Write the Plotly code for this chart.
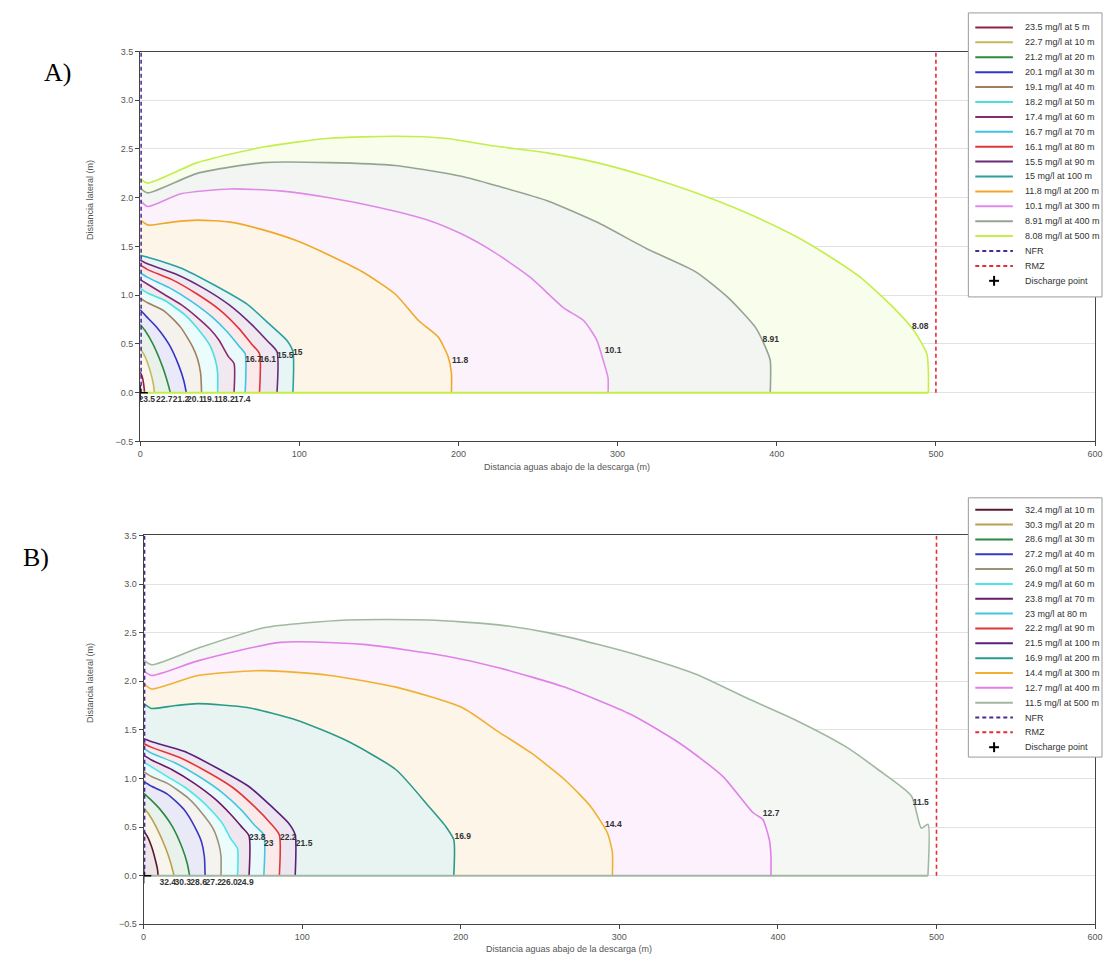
import plotly.graph_objects as go

W, H = 1111, 962

# ---------------- Panel A data ----------------
a_conc = ["23.5", "22.7", "21.2", "20.1", "19.1", "18.2", "17.4", "16.7", "16.1", "15.5", "15", "11.8", "10.1", "8.91", "8.08"]
a_dist = [5, 10, 20, 30, 40, 50, 60, 70, 80, 90, 100, 200, 300, 400, 500]
a_x = [
    [0, 1.2, 2.2, 2.8],
    [0, 2.5, 5, 7.2, 8.5, 9],
    [0, 3, 8, 14, 17, 19],
    [0, 4, 10, 18, 24.5, 27.5, 29],
    [0, 5, 15, 25.5, 33, 36, 38, 38.6],
    [0, 5, 15, 28, 38, 44, 47.5, 48.7, 48.7],
    [0, 5, 15, 26, 36, 44, 49.5, 55.5, 59, 59],
    [0, 5, 18, 32, 45, 55, 62, 66, 66],
    [0, 5, 20, 36, 50, 62, 70, 75, 75],
    [0, 5, 22, 40, 56, 70, 80, 86, 86],
    [0, 6.8, 25.5, 46, 67, 81.5, 92, 96, 96],
    [0, 1, 4.8, 20, 35.9, 56.6, 77.4, 98.1, 118.9, 139.6, 160.4, 174.9, 187.3, 193.5, 195.6, 195.6],
    [0, 4.8, 25.5, 56.6, 87.7, 118.9, 150, 181, 201.8, 222.6, 245.4, 266.1, 278.6, 286.9, 291, 294, 294],
    [0, 4.8, 35.9, 77.4, 118.9, 160.4, 201.8, 224.6, 255.7, 286.9, 318, 349.1, 369.8, 386.6, 392.8, 395.9, 395.9],
    [0, 4.8, 35.9, 77.4, 118.9, 160.4, 191.5, 222.6, 255.7, 286.9, 318, 349.1, 380.2, 411.3, 432, 452.8, 473.5, 486, 494.3, 495.3, 495.3],
]
a_y = [
    [0.21, 0.17, 0.09, 0],
    [0.45, 0.39, 0.29, 0.17, 0.07, 0],
    [0.70, 0.64, 0.50, 0.27, 0.12, 0],
    [0.85, 0.78, 0.68, 0.50, 0.27, 0.12, 0],
    [0.97, 0.92, 0.84, 0.67, 0.47, 0.35, 0.2, 0],
    [1.07, 1.02, 0.95, 0.80, 0.62, 0.48, 0.32, 0.2, 0],
    [1.16, 1.11, 1.01, 0.90, 0.77, 0.65, 0.54, 0.37, 0.3, 0],
    [1.23, 1.18, 1.08, 0.94, 0.78, 0.62, 0.48, 0.40, 0],
    [1.31, 1.26, 1.16, 1.01, 0.85, 0.66, 0.50, 0.40, 0],
    [1.36, 1.32, 1.22, 1.07, 0.90, 0.70, 0.53, 0.42, 0],
    [1.41, 1.38, 1.28, 1.11, 0.91, 0.70, 0.54, 0.42, 0],
    [1.77, 1.76, 1.72, 1.75, 1.77, 1.75, 1.67, 1.56, 1.41, 1.24, 1.01, 0.74, 0.57, 0.37, 0.2, 0],
    [1.97, 1.91, 2.04, 2.09, 2.07, 2.0, 1.9, 1.77, 1.63, 1.44, 1.18, 0.87, 0.74, 0.54, 0.33, 0.15, 0],
    [2.10, 2.05, 2.25, 2.36, 2.36, 2.33, 2.22, 2.12, 1.97, 1.75, 1.48, 1.24, 0.97, 0.67, 0.47, 0.33, 0],
    [2.20, 2.15, 2.36, 2.52, 2.61, 2.63, 2.61, 2.53, 2.46, 2.36, 2.22, 2.05, 1.85, 1.61, 1.41, 1.18, 0.87, 0.64, 0.40, 0.2, 0],
]
a_lab_x = [-1, 10, 20.5, 29.5, 39, 49, 59, 66, 75, 86, 96, 196, 292, 391, 485]
a_lab_y = [-0.07, -0.07, -0.07, -0.07, -0.07, -0.07, -0.07, 0.34, 0.34, 0.38, 0.41, 0.33, 0.43, 0.54, 0.67]

# ---------------- Panel B data ----------------
b_conc = ["32.4", "30.3", "28.6", "27.2", "26.0", "24.9", "23.8", "23", "22.2", "21.5", "16.9", "14.4", "12.7", "11.5"]
b_dist = [10, 20, 30, 40, 50, 60, 70, 80, 90, 100, 200, 300, 400, 500]
b_x = [
    [0, 2.5, 5, 7.3, 8.7, 9.2],
    [0, 3, 8, 14, 17.3, 19.2],
    [0, 4, 10, 18, 24.5, 27.6, 29],
    [0, 5, 15, 25.5, 33, 36.5, 38.3, 38.8],
    [0, 5, 15, 28, 38, 44, 47.5, 48.8, 48.8],
    [0, 5, 15, 26, 36, 44, 50, 55, 59.2, 59.2],
    [0, 5, 18, 32, 45, 55, 62, 66.5, 66.5],
    [0, 5, 20, 36, 50, 62, 70, 75.8, 75.8],
    [0, 5, 22, 40, 56, 70, 80, 85.6, 85.6],
    [0, 6.8, 25.5, 46, 67, 81.5, 91.5, 95.6, 95.6],
    [0, 1, 5, 20, 34.2, 65.4, 96.7, 127.9, 159.2, 180, 190.4, 195.6, 195.6],
    [0, 5, 34.2, 75.8, 117.5, 159.2, 200.8, 223.8, 244.6, 265.4, 282, 292.5, 295.6, 295.6],
    [0, 5, 34.2, 86.3, 138.3, 190.4, 223.8, 265.4, 307.1, 338.3, 365.4, 384.2, 390.4, 394.6, 395.6, 395.6],
    [0, 5, 34.2, 75.8, 127.9, 180, 223.8, 255, 286.3, 317.5, 348.8, 380, 411.3, 442.5, 463.3, 484.2, 490.4, 494.6, 494.6],
]
b_y = [
    [0.46, 0.40, 0.30, 0.17, 0.07, 0],
    [0.70, 0.64, 0.50, 0.28, 0.12, 0],
    [0.85, 0.79, 0.69, 0.51, 0.28, 0.12, 0],
    [0.97, 0.92, 0.84, 0.68, 0.48, 0.35, 0.2, 0],
    [1.07, 1.02, 0.95, 0.80, 0.62, 0.48, 0.32, 0.2, 0],
    [1.17, 1.12, 1.02, 0.91, 0.78, 0.65, 0.53, 0.38, 0.28, 0],
    [1.24, 1.19, 1.09, 0.95, 0.79, 0.63, 0.50, 0.41, 0],
    [1.31, 1.26, 1.16, 1.01, 0.85, 0.67, 0.52, 0.42, 0],
    [1.36, 1.32, 1.22, 1.07, 0.91, 0.71, 0.54, 0.42, 0],
    [1.41, 1.37, 1.28, 1.11, 0.91, 0.70, 0.54, 0.42, 0],
    [1.77, 1.76, 1.72, 1.75, 1.77, 1.73, 1.60, 1.39, 1.09, 0.71, 0.51, 0.37, 0],
    [1.98, 1.92, 2.06, 2.11, 2.06, 1.94, 1.73, 1.48, 1.26, 0.99, 0.71, 0.44, 0.24, 0],
    [2.11, 2.06, 2.21, 2.40, 2.38, 2.26, 2.14, 1.94, 1.66, 1.36, 1.02, 0.65, 0.58, 0.37, 0.2, 0],
    [2.22, 2.17, 2.34, 2.55, 2.63, 2.63, 2.58, 2.50, 2.38, 2.24, 2.07, 1.83, 1.60, 1.33, 1.09, 0.82, 0.49, 0.53, 0],
]
b_lab_x = [10, 19.5, 29.5, 39, 49, 59, 66.5, 76, 86, 96, 196, 291, 390.5, 485]
b_lab_y = [-0.07, -0.07, -0.07, -0.07, -0.07, -0.07, 0.39, 0.33, 0.39, 0.33, 0.40, 0.52, 0.64, 0.75]

# zone limits and discharge point
nfr_x = 0.6
rmz_x = 500
zone_y = [0, 3.5]
discharge_x = [0]
discharge_y = [0]

x_ticks = [0, 100, 200, 300, 400, 500, 600]
y_ticks = [-0.5, 0.0, 0.5, 1.0, 1.5, 2.0, 2.5, 3.0, 3.5]

# ---------------- styles ----------------
a_colors = ["#8e2344", "#c8b560", "#2e8b3e", "#3434c8", "#a0805a", "#48e0e0", "#8a2a6a", "#3cc4e8",
            "#e0343a", "#6a2a7a", "#2aa0a0", "#f0a828", "#e08ae8", "#94a494", "#c4ee4c"]
b_colors = ["#5a1830", "#b8a050", "#2a8a40", "#3838c0", "#a09078", "#48e8e8", "#6a1a6a", "#40c8e0",
            "#e03838", "#5a2080", "#2a9a8a", "#f0b030", "#e080e8", "#a0b8a0"]
NFR_COLOR = "#4b2a8f"
RMZ_COLOR = "#e0303a"
FONT = "Liberation Sans, Arial, sans-serif"


def tint(hexc, f=0.12):
    r, g, b = int(hexc[1:3], 16), int(hexc[3:5], 16), int(hexc[5:7], 16)
    return "rgb(%d,%d,%d)" % (round(255 - f * (255 - r)), round(255 - f * (255 - g)), round(255 - f * (255 - b)))


def pxx(p):
    return p / W


def pxy(p):
    return 1 - p / H


fig = go.Figure()

panels = [
    dict(conc=a_conc, dist=a_dist, xs=a_x, ys=a_y, lx=a_lab_x, ly=a_lab_y, colors=a_colors, xa="x", ya="y"),
    dict(conc=b_conc, dist=b_dist, xs=b_x, ys=b_y, lx=b_lab_x, ly=b_lab_y, colors=b_colors, xa="x2", ya="y2"),
]

for p in panels:
    n = len(p["xs"])
    # fills, outermost first
    for i in reversed(range(n)):
        xs = p["xs"][i] + [p["xs"][i][0]]
        ys = p["ys"][i] + [p["ys"][i][-1]]
        fig.add_trace(go.Scatter(x=xs, y=ys, mode="lines", fill="toself",
                                 fillcolor=tint(p["colors"][i], 0.11), line=dict(width=0),
                                 hoverinfo="skip", showlegend=False, xaxis=p["xa"], yaxis=p["ya"]))
    # contour lines
    for i in range(n):
        fig.add_trace(go.Scatter(x=p["xs"][i], y=p["ys"][i], mode="lines",
                                 line=dict(color=p["colors"][i], width=1.6, shape="spline", smoothing=0.6),
                                 name=f"{p['conc'][i]} mg/l at {p['dist'][i]} m",
                                 showlegend=False, xaxis=p["xa"], yaxis=p["ya"]))
    # bottom edge of the outermost plume
    fig.add_trace(go.Scatter(x=[p["xs"][-1][0], p["xs"][-1][-1]], y=[p["ys"][-1][-1], p["ys"][-1][-1]],
                             mode="lines", line=dict(color=p["colors"][-1], width=2),
                             hoverinfo="skip", showlegend=False, xaxis=p["xa"], yaxis=p["ya"]))
    # NFR / RMZ
    fig.add_trace(go.Scatter(x=[nfr_x, nfr_x], y=zone_y, mode="lines", name="NFR",
                             line=dict(color=NFR_COLOR, width=1.6, dash="4px,3px"),
                             showlegend=False, xaxis=p["xa"], yaxis=p["ya"]))
    fig.add_trace(go.Scatter(x=[rmz_x, rmz_x], y=zone_y, mode="lines", name="RMZ",
                             line=dict(color=RMZ_COLOR, width=1.6, dash="4px,3px"),
                             showlegend=False, xaxis=p["xa"], yaxis=p["ya"]))
    # discharge point
    fig.add_trace(go.Scatter(x=discharge_x, y=discharge_y, mode="markers", name="Discharge point",
                             marker=dict(symbol="cross-thin", size=11, line=dict(color="black", width=1.6)),
                             showlegend=False, xaxis=p["xa"], yaxis=p["ya"]))
    # contour labels
    fig.add_trace(go.Scatter(x=p["lx"], y=p["ly"], mode="text", text=p["conc"],
                             textposition="middle right",
                             textfont=dict(family=FONT, size=8.5, color="#333333", weight="bold"),
                             hoverinfo="skip", showlegend=False, xaxis=p["xa"], yaxis=p["ya"]))

axis_common = dict(showline=True, mirror=True, linecolor="#444444", linewidth=1,
                   ticks="outside", ticklen=4, tickcolor="#444444", zeroline=False,
                   tickfont=dict(family=FONT, size=9, color="#555555"))

fig.update_layout(
    width=W, height=H,
    margin=dict(l=0, r=0, t=0, b=0),
    paper_bgcolor="white", plot_bgcolor="white",
    showlegend=False,
    xaxis=dict(domain=[pxx(138.5), pxx(1103)], range=[0, 600], tickvals=x_ticks, showgrid=False,
               anchor="y", **axis_common),
    yaxis=dict(domain=[pxy(441), pxy(47)], range=[-0.5, 3.5], tickvals=y_ticks, tickformat=".1f",
               showgrid=True, gridcolor="#e2e2e2", anchor="x", **axis_common),
    xaxis2=dict(domain=[pxx(142), pxx(1103)], range=[0, 600], tickvals=x_ticks, showgrid=False,
                anchor="y2", **axis_common),
    yaxis2=dict(domain=[pxy(929), pxy(536)], range=[-0.5, 3.5], tickvals=y_ticks, tickformat=".1f",
                showgrid=True, gridcolor="#e2e2e2", anchor="x2", **axis_common),
)

annotations = []
shapes = []

# panel letters
annotations.append(dict(text="A)", x=pxx(55), y=pxy(68), xref="paper", yref="paper", showarrow=False,
                        xanchor="center", yanchor="middle",
                        font=dict(family="Liberation Serif, Times New Roman, serif", size=26, color="black")))
annotations.append(dict(text="B)", x=pxx(48), y=pxy(558), xref="paper", yref="paper", showarrow=False,
                        xanchor="right", yanchor="middle",
                        font=dict(family="Liberation Serif, Times New Roman, serif", size=26, color="black")))

# axis titles
for ytitle_c, xtitle_x, xtitle_y in [(197, 570, 467), (685, 572, 954)]:
    annotations.append(dict(text="Distancia lateral (m)", x=pxx(88), y=pxy(ytitle_c), xref="paper", yref="paper",
                            showarrow=False, textangle=-90, xanchor="center", yanchor="middle",
                            font=dict(family=FONT, size=9, color="#555555")))
    annotations.append(dict(text="Distancia aguas abajo de la descarga (m)", x=pxx(xtitle_x), y=pxy(xtitle_y),
                            xref="paper", yref="paper", showarrow=False, xanchor="center", yanchor="middle",
                            font=dict(family=FONT, size=9, color="#555555")))

# manual legends (compact rows like the original)
legend_boxes = [
    dict(conc=a_conc, dist=a_dist, colors=a_colors, top=8, bottom=295, first=22.7, step=15.06),
    dict(conc=b_conc, dist=b_dist, colors=b_colors, top=498, bottom=760, first=510, step=15.0),
]
for lb in legend_boxes:
    shapes.append(dict(type="rect", xref="paper", yref="paper", x0=pxx(975), x1=pxx(1110),
                       y0=pxy(lb["bottom"]), y1=pxy(lb["top"]),
                       line=dict(color="#9a9a9a", width=1), fillcolor="white", layer="above"))
    rows = [(f"{c} mg/l at {d} m", col, "solid") for c, d, col in zip(lb["conc"], lb["dist"], lb["colors"])]
    rows += [("NFR", NFR_COLOR, "dash"), ("RMZ", RMZ_COLOR, "dash"), ("Discharge point", "black", "plus")]
    for k, (txt, col, style) in enumerate(rows):
        yy = lb["first"] + k * lb["step"]
        if style == "plus":
            shapes.append(dict(type="line", xref="paper", yref="paper", x0=pxx(996), x1=pxx(1006),
                               y0=pxy(yy), y1=pxy(yy), line=dict(color="black", width=2), layer="above"))
            shapes.append(dict(type="line", xref="paper", yref="paper", x0=pxx(1001), x1=pxx(1001),
                               y0=pxy(yy - 5), y1=pxy(yy + 5), line=dict(color="black", width=2), layer="above"))
        else:
            shapes.append(dict(type="line", xref="paper", yref="paper", x0=pxx(982), x1=pxx(1020),
                               y0=pxy(yy), y1=pxy(yy),
                               line=dict(color=col, width=2, dash=("4px,3px" if style == "dash" else "solid")),
                               layer="above"))
        annotations.append(dict(text=txt, x=pxx(1030), y=pxy(yy), xref="paper", yref="paper", showarrow=False,
                                xanchor="left", yanchor="middle",
                                font=dict(family=FONT, size=9, color="#333333")))

fig.update_layout(annotations=annotations, shapes=shapes)

fig.write_html("out.html", config={"displayModeBar": False},
               post_script="document.body.style.margin='0';document.body.style.overflow='hidden';")
